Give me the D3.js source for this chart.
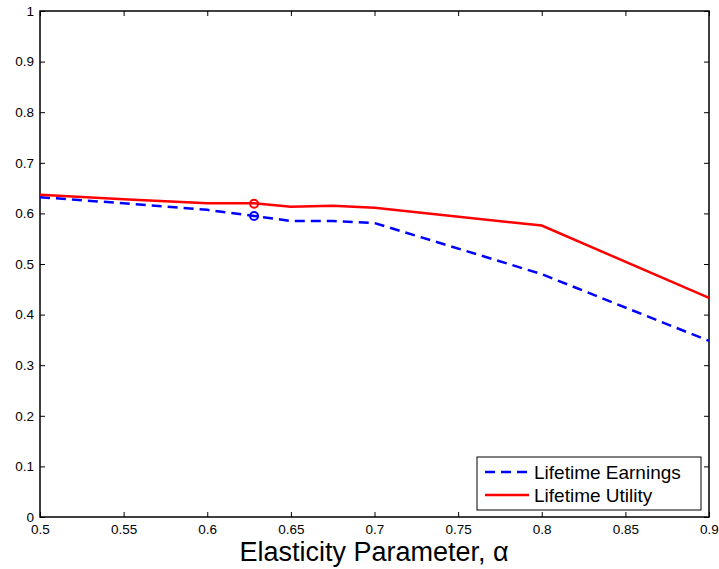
<!DOCTYPE html>
<html lang="en">
<head>
<meta charset="UTF-8">
<title>Elasticity</title>
<style>
body {margin: 0; background: #fff;}
text {font-family: "Liberation Sans", Arial, sans-serif;}
</style>
</head>
<body>
<div id="chart"></div>
<script src="https://d3js.org/d3.v7.min.js"></script>
<script>

// data
var alpha = [0.5, 0.55, 0.6, 0.628, 0.65, 0.675, 0.7, 0.8, 0.9];
var earnings = [0.632, 0.620, 0.607, 0.595, 0.585, 0.585, 0.581, 0.480, 0.348];
var utility = [0.637, 0.628, 0.620, 0.620, 0.613, 0.615, 0.611, 0.576, 0.433];
var markerX = 0.628;
var markerEarnings = 0.595;
var markerUtility = 0.619;
var xTicks = [0.5, 0.55, 0.6, 0.65, 0.7, 0.75, 0.8, 0.85, 0.9];
var yTicks = [0, 0.1, 0.2, 0.3, 0.4, 0.5, 0.6, 0.7, 0.8, 0.9, 1];
var seriesNames = ["Lifetime Earnings", "Lifetime Utility"];

var W = 719, H = 569;
var margin = {top: 11, right: 10, bottom: 52, left: 40};
var width = W - margin.left - margin.right,
    height = H - margin.top - margin.bottom;

var svg = d3.select("#chart").append("svg")
    .attr("width", W).attr("height", H);
var g = svg.append("g")
    .attr("transform", "translate(" + margin.left + "," + margin.top + ")");

var x = d3.scaleLinear().domain([0.5, 0.9]).range([0, width]);
var y = d3.scaleLinear().domain([0, 1]).range([height, 0]);

// axes, ticks pointing inward on all four sides
function styleAxis(sel) {
  sel.select(".domain").remove();
  sel.selectAll("line").attr("stroke", "#000").attr("stroke-width", 1);
  sel.selectAll("text").attr("font-size", 13.5).attr("fill", "#000");
}
g.append("g").attr("transform", "translate(0," + height + ")")
  .call(d3.axisBottom(x).tickValues(xTicks).tickSizeInner(-5).tickSizeOuter(0).tickPadding(7).tickFormat(d3.format("")))
  .call(styleAxis);
g.append("g")
  .call(d3.axisLeft(y).tickValues(yTicks).tickSizeInner(-5).tickSizeOuter(0).tickPadding(6).tickFormat(d3.format("")))
  .call(styleAxis);
g.append("g")
  .call(d3.axisTop(x).tickValues(xTicks).tickSizeInner(-5).tickSizeOuter(0).tickFormat(""))
  .call(styleAxis);
g.append("g").attr("transform", "translate(" + width + ",0)")
  .call(d3.axisRight(y).tickValues(yTicks).tickSizeInner(-5).tickSizeOuter(0).tickFormat(""))
  .call(styleAxis);

g.append("rect")
  .attr("width", width).attr("height", height)
  .attr("fill", "none").attr("stroke", "#000").attr("stroke-width", 1.5);

var line = d3.line()
  .x(function(d) { return x(d[0]); })
  .y(function(d) { return y(d[1]); });

g.append("path")
  .datum(d3.zip(alpha, earnings))
  .attr("d", line)
  .attr("fill", "none").attr("stroke", "#0000ff").attr("stroke-width", 2.5)
  .attr("stroke-dasharray", "10,6");

g.append("path")
  .datum(d3.zip(alpha, utility))
  .attr("d", line)
  .attr("fill", "none").attr("stroke", "#ff0000").attr("stroke-width", 2.5);

// circle markers
g.append("circle").attr("cx", x(markerX)).attr("cy", y(markerEarnings)).attr("r", 4)
  .attr("fill", "none").attr("stroke", "#0000ff").attr("stroke-width", 2);
g.append("circle").attr("cx", x(markerX)).attr("cy", y(markerUtility)).attr("r", 4)
  .attr("fill", "none").attr("stroke", "#ff0000").attr("stroke-width", 2);

// x label
svg.append("text")
  .attr("x", 374).attr("y", 561)
  .attr("text-anchor", "middle").attr("font-size", 27)
  .text("Elasticity Parameter, α");

// legend
var lg = svg.append("g").attr("transform", "translate(477,457)");
lg.append("rect").attr("width", 224).attr("height", 53)
  .attr("fill", "#fff").attr("stroke", "#000").attr("stroke-width", 1);
var colors = ["#0000ff", "#ff0000"];
var dashes = ["10,6", null];
seriesNames.forEach(function(name, i) {
  var yy = 15 + i * 23;
  lg.append("line").attr("x1", 8).attr("x2", 52).attr("y1", yy).attr("y2", yy)
    .attr("stroke", colors[i]).attr("stroke-width", 2.5)
    .attr("stroke-dasharray", dashes[i]);
  lg.append("text").attr("x", 57).attr("y", yy + 7)
    .attr("font-size", 19).text(name);
});
</script>
</body>
</html>
